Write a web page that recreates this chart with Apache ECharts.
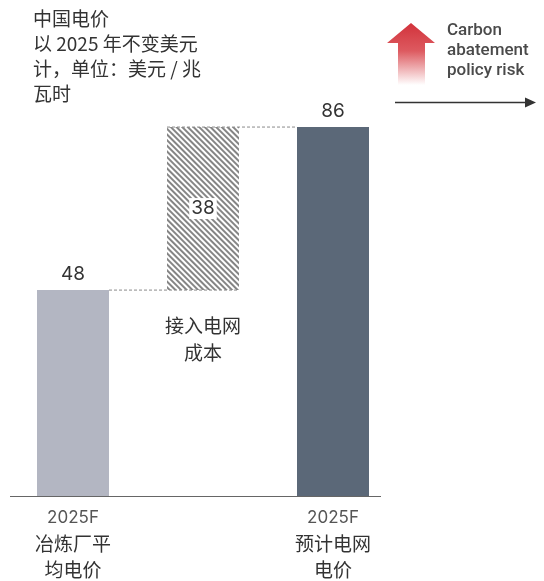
<!DOCTYPE html>
<html>
<head>
<meta charset="utf-8">
<script src="https://cdn.jsdelivr.net/npm/echarts@6/dist/echarts.min.js"></script>
<style>
  html, body { margin: 0; padding: 0; background: #fff; }
  #chart { width: 544px; height: 581px; }
</style>
</head>
<body>
<div id="chart"></div>
<script>
// China power prices, waterfall from smelter average to projected grid price
const categories = ['2025F\n冶炼厂平\n均电价', '', '2025F\n预计电网\n电价'];
const barValues = [48, 38, 86];          // visible bar heights
const baseValues = [0, 48, 0];           // invisible offsets for the floating step
const stepNote = '接入电网\n成本';        // note under the floating step
const connectors = [[0, 48], [1, 86]];   // [from category, level] dashed links

const titleLines = ['中国电价', '以 2025 年不变美元', '计，单位：美元 / 兆', '瓦时'];
const riskLines = ['Carbon', 'abatement', 'policy risk'];

const CJK = '"Noto Sans CJK SC", "Noto Sans", sans-serif';
const BAR_W = 72;

const barColors = ['#b3b6c2', '#ffffff', '#5b6878'];

const chart = echarts.init(document.getElementById('chart'), null, { renderer: 'canvas' });

function catLabel(v) {
  if (!v) return '';
  const parts = v.split('\n');
  return '{y|' + parts[0] + '}\n' + parts.slice(1).map(p => '{c|' + p + '}').join('\n');
}

const option = {
  animation: false,
  backgroundColor: '#fff',
  grid: { left: 8, width: 390, top: 67, bottom: 85, containLabel: false },
  xAxis: {
    type: 'category',
    data: categories,
    axisLine: { show: false },
    axisTick: { show: false },
    axisLabel: {
      interval: 0,
      margin: 8,
      formatter: catLabel,
      rich: {
        y: { fontFamily: 'Inter, "Noto Sans", sans-serif', fontSize: 17, color: '#555', lineHeight: 27 },
        c: { fontFamily: CJK, fontSize: 19, color: '#333', lineHeight: 26 }
      }
    }
  },
  yAxis: { type: 'value', min: 0, max: 100, show: false },
  series: [
    {
      type: 'bar',
      stack: 'w',
      barWidth: BAR_W,
      data: baseValues.map((v, i) => ({
        value: v,
        itemStyle: { color: 'rgba(0,0,0,0)' },
        label: i === 1 ? {
          show: true,
          position: 'insideTop',
          distance: 22,
          formatter: stepNote,
          fontFamily: CJK,
          fontSize: 19,
          lineHeight: 27,
          color: '#333'
        } : { show: false }
      })),
      silent: true
    },
    {
      type: 'bar',
      stack: 'w',
      barWidth: BAR_W,
      data: barValues.map((v, i) => ({
        value: v,
        itemStyle: i === 1 ? {
          color: '#ffffff',
          decal: {
            symbol: 'rect',
            symbolSize: 1,
            color: '#858585',
            dashArrayX: [1, 0],
            dashArrayY: [1.2, 1.8],
            rotation: Math.PI / 4
          }
        } : { color: barColors[i] },
        label: i === 1 ? {
          show: true,
          position: 'inside',
          fontFamily: 'Inter, "Noto Sans", sans-serif',
          fontSize: 19,
          color: '#333',
          backgroundColor: '#fff',
          padding: [1, 2]
        } : {
          show: true,
          position: 'top',
          distance: 6,
          fontFamily: 'Inter, "Noto Sans", sans-serif',
          fontSize: 19,
          color: '#333'
        }
      }))
    },
    {
      // dashed links between the steps
      type: 'custom',
      data: connectors,
      z: 5,
      renderItem: function (params, api) {
        const i = api.value(0);
        const lvl = api.value(1);
        const a = api.coord([i, lvl]);
        const b = api.coord([i + 1, lvl]);
        const half = BAR_W / 2;
        const x0 = i === 0 ? a[0] + half : a[0] - half;
        const x1 = i === 0 ? b[0] + half : b[0] - half;
        return {
          type: 'line',
          shape: { x1: x0, y1: a[1], x2: x1, y2: b[1] },
          style: { stroke: '#8a8a8a', lineWidth: 1, lineDash: [3, 2] }
        };
      }
    }
  ],
  graphic: [
    {
      type: 'text',
      left: 33,
      top: 6,
      style: {
        text: titleLines.join('\n'),
        font: '19px ' + CJK,
        lineHeight: 25,
        fill: '#333'
      }
    },
    {
      // baseline
      type: 'line',
      shape: { x1: 10, y1: 496.5, x2: 381, y2: 496.5 },
      style: { stroke: '#666', lineWidth: 1.2 }
    },
    {
      // rising policy-risk arrow with fade
      type: 'polygon',
      shape: {
        points: [[411, 23], [435, 43], [425, 43], [425, 85], [398, 85], [398, 43], [387, 43]]
      },
      style: {
        fill: new echarts.graphic.LinearGradient(0, 0, 0, 1, [
          { offset: 0, color: '#d2323b' },
          { offset: 0.45, color: '#dd5a60' },
          { offset: 1, color: 'rgba(255,255,255,1)' }
        ])
      }
    },
    {
      type: 'text',
      left: 447,
      top: 21,
      style: {
        text: riskLines.join('\n'),
        font: '500 17px Roboto, "Noto Sans", sans-serif',
        lineHeight: 20,
        fill: '#4a4a4a'
      }
    },
    {
      type: 'line',
      shape: { x1: 395, y1: 102.5, x2: 528, y2: 102.5 },
      style: { stroke: '#333', lineWidth: 1.3 }
    },
    {
      type: 'polygon',
      shape: { points: [[536, 102.5], [525, 97.5], [525, 107.5]] },
      style: { fill: '#333' }
    }
  ]
};

chart.setOption(option);
</script>
</body>
</html>
